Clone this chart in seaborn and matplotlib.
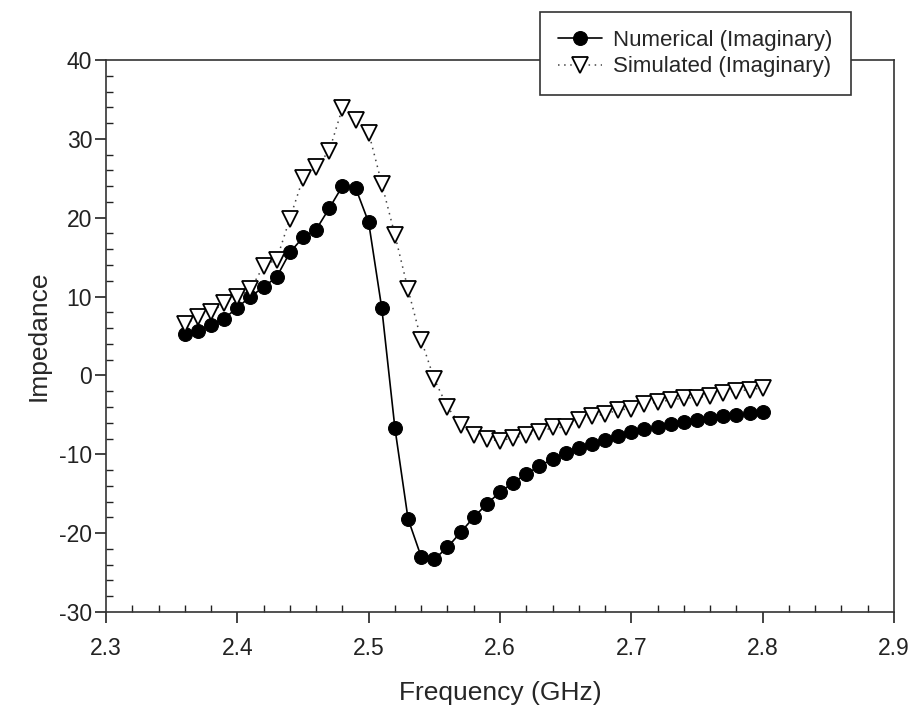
import numpy as np
import pandas as pd
import matplotlib
matplotlib.use("Agg")
import matplotlib.pyplot as plt
from matplotlib.ticker import MultipleLocator
import seaborn as sns

# frequency points (GHz)
freq = [2.36, 2.37, 2.38, 2.39, 2.40, 2.41, 2.42, 2.43, 2.44, 2.45,
        2.46, 2.47, 2.48, 2.49, 2.50, 2.51, 2.52, 2.53, 2.54, 2.55,
        2.56, 2.57, 2.58, 2.59, 2.60, 2.61, 2.62, 2.63, 2.64, 2.65,
        2.66, 2.67, 2.68, 2.69, 2.70, 2.71, 2.72, 2.73, 2.74, 2.75,
        2.76, 2.77, 2.78, 2.79, 2.80]

numerical_imag = [5.2, 5.6, 6.4, 7.2, 8.6, 10.0, 11.2, 12.5, 15.6, 17.5,
                  18.5, 21.2, 24.0, 23.8, 19.4, 8.5, -6.7, -18.2, -23.0, -23.3,
                  -21.8, -19.9, -18.0, -16.3, -14.8, -13.6, -12.5, -11.5, -10.6, -9.9,
                  -9.2, -8.7, -8.2, -7.7, -7.2, -6.8, -6.6, -6.2, -5.9, -5.6,
                  -5.4, -5.2, -5.0, -4.8, -4.6]

simulated_imag = [6.5, 7.4, 8.0, 9.2, 9.9, 10.9, 13.9, 14.7, 19.9, 25.0,
                  26.4, 28.5, 33.9, 32.4, 30.8, 24.3, 17.8, 10.9, 4.5, -0.5,
                  -4.0, -6.3, -7.5, -8.1, -8.3, -7.9, -7.6, -7.2, -6.6, -6.6,
                  -5.7, -5.2, -4.9, -4.4, -4.2, -3.6, -3.4, -3.1, -2.9, -2.8,
                  -2.6, -2.2, -2.0, -1.8, -1.6]

x_ticks = [2.3, 2.4, 2.5, 2.6, 2.7, 2.8, 2.9]
y_ticks = [-30, -20, -10, 0, 10, 20, 30, 40]

sns.set_style("ticks")
plt.rcParams["font.family"] = ["Liberation Sans", "DejaVu Sans"]

df = pd.DataFrame({"freq": freq, "num": numerical_imag, "sim": simulated_imag})

fig = plt.figure(figsize=(9.13, 7.07), dpi=100)
ax = fig.add_axes([0.1161, 0.1344, 0.8631, 0.7807])

sns.lineplot(data=df, x="freq", y="num", ax=ax, color="black", linewidth=1.2,
             marker="o", markersize=10, markerfacecolor="black",
             markeredgecolor="black", label="Numerical (Imaginary)")
sns.lineplot(data=df, x="freq", y="sim", ax=ax, color="#444444", linewidth=1.1,
             linestyle=(0, (1, 3)), marker="v", markersize=11,
             markerfacecolor="white", markeredgecolor="black",
             markeredgewidth=1.3, label="Simulated (Imaginary)")

ax.set_xlim(2.3, 2.9)
ax.set_ylim(-30, 40)
ax.set_xticks(x_ticks)
ax.set_yticks(y_ticks)
ax.set_xticklabels([f"{t:.1f}" for t in x_ticks])
ax.set_yticklabels([str(t) for t in y_ticks])
ax.xaxis.set_minor_locator(MultipleLocator(0.02))
ax.yaxis.set_minor_locator(MultipleLocator(2))

ax.tick_params(which="major", direction="out", length=8, width=1.2,
               labelsize=16.5, colors="#222222")
ax.tick_params(axis="y", which="major", pad=2)
ax.tick_params(axis="x", which="major", pad=10)
ax.tick_params(which="minor", direction="in", length=5, width=1.0,
               colors="#222222")
ax.tick_params(top=False, right=False, which="both")
for s in ax.spines.values():
    s.set_visible(True)
    s.set_linewidth(1.2)
    s.set_color("#333333")

ax.set_xlabel("Frequency (GHz)", fontsize=19, labelpad=15)
ax.set_ylabel("Impedance", fontsize=19, labelpad=6)

leg = ax.legend(loc="upper left", bbox_to_anchor=(0.5915, 0.983),
                bbox_transform=fig.transFigure, borderaxespad=0,
                fontsize=16, frameon=True, fancybox=False, framealpha=1,
                edgecolor="#333333", handlelength=2.0, borderpad=0.8,
                labelspacing=0.25, handletextpad=0.5)
leg.get_frame().set_linewidth(1.2)

fig.savefig("out.png", dpi=100)
plt.close(fig)
